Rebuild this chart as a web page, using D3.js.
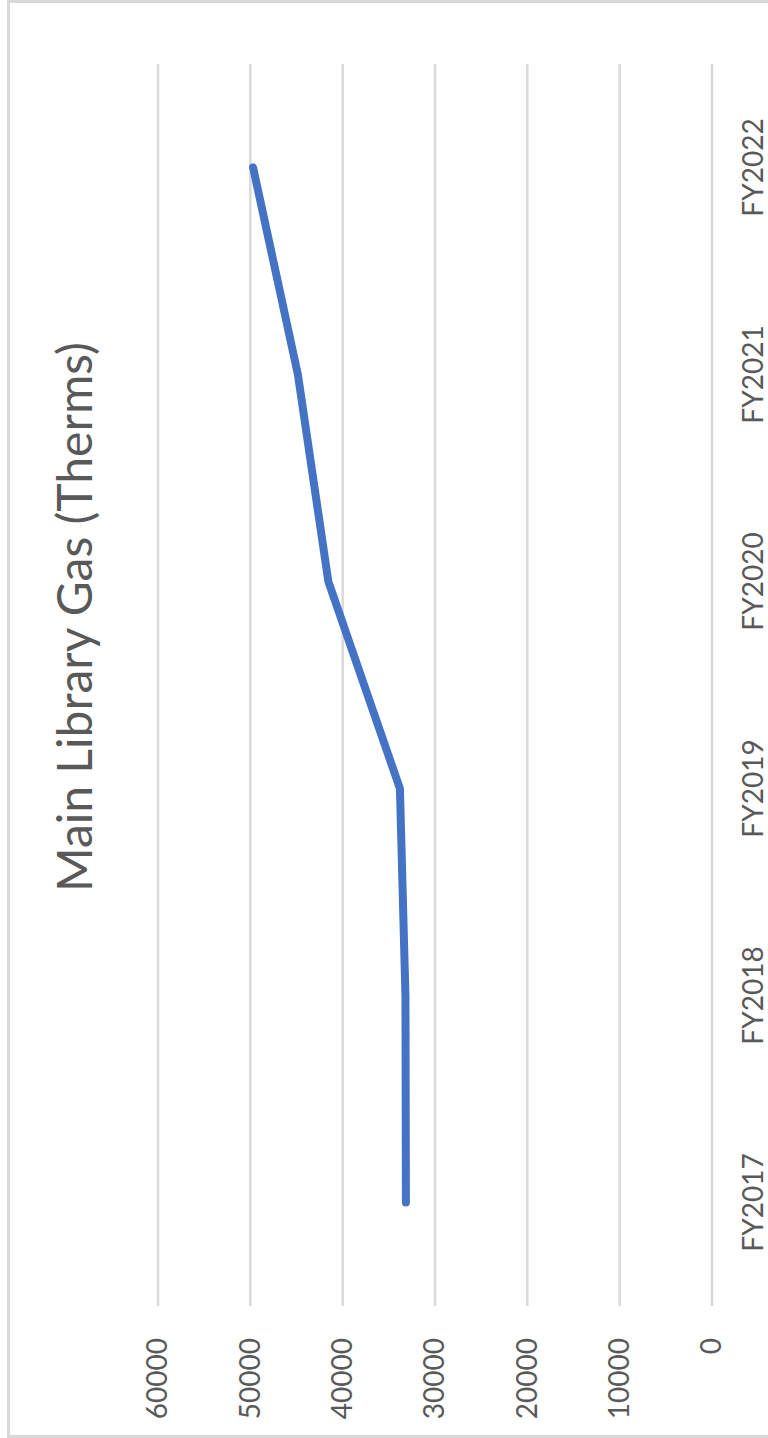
<!DOCTYPE html>
<html>
<head>
<meta charset="utf-8">
<script src="https://cdn.jsdelivr.net/npm/d3@7"></script>
<style>
  html, body { margin: 0; padding: 0; background: #fff; }
  svg { display: block; }
</style>
</head>
<body>
<script>
const categories = ["FY2017", "FY2018", "FY2019", "FY2020", "FY2021", "FY2022"];
const gasTherms = [33150, 33200, 33800, 41550, 44850, 49700];
const valueTicks = [0, 10000, 20000, 30000, 40000, 50000, 60000];
const titleText = "Main Library Gas (Therms)";

const W = 768, H = 1438;
const svg = d3.select("body").append("svg").attr("width", W).attr("height", H);

// outer frame
svg.append("rect")
  .attr("x", 8.5).attr("y", 1.5).attr("width", 800).attr("height", 1435)
  .attr("fill", "#fff").attr("stroke", "#d9d9d9").attr("stroke-width", 3);

// chart drawn in its original (landscape) frame, then rotated -90°
const g = svg.append("g").attr("transform", `translate(0,${H}) rotate(-90)`);

const x = d3.scaleBand().domain(categories).range([132, 1374]).padding(0);
const y = d3.scaleLinear().domain([0, 60000]).range([712, 158]);

// gridlines
g.append("g").selectAll("line").data(valueTicks).join("line")
  .attr("x1", 132).attr("x2", 1374)
  .attr("y1", d => y(d)).attr("y2", d => y(d))
  .attr("stroke", "#d9d9d9").attr("stroke-width", 2.5);

// value axis labels
const yAxis = d3.axisLeft(y).tickValues(valueTicks).tickFormat(d3.format("d")).tickSize(0).tickPadding(0);
const ya = g.append("g").attr("transform", "translate(100,0)").call(yAxis);
ya.select(".domain").remove();
ya.selectAll("text")
  .attr("font-family", "Lato, 'Open Sans', sans-serif")
  .attr("font-size", 28).attr("fill", "#595959");

// category axis labels
const xAxis = d3.axisBottom(x).tickSize(0).tickPadding(0);
const xa = g.append("g").attr("transform", "translate(0,743)").call(xAxis);
xa.select(".domain").remove();
xa.selectAll("text")
  .attr("dy", "0.71em")
  .attr("font-family", "Lato, 'Open Sans', sans-serif")
  .attr("font-size", 28).attr("fill", "#595959");

// series line
const line = d3.line()
  .x((d, i) => x(categories[i]) + x.bandwidth() / 2)
  .y(d => y(d));
g.append("path").datum(gasTherms)
  .attr("d", line)
  .attr("fill", "none").attr("stroke", "#4472c4").attr("stroke-width", 8)
  .attr("stroke-linecap", "round").attr("stroke-linejoin", "round");

// title
g.append("text")
  .attr("x", 821).attr("y", 92)
  .attr("text-anchor", "middle")
  .attr("font-family", "Lato, 'Open Sans', sans-serif")
  .attr("font-size", 48).attr("fill", "#595959")
  .text(titleText);
</script>
</body>
</html>
